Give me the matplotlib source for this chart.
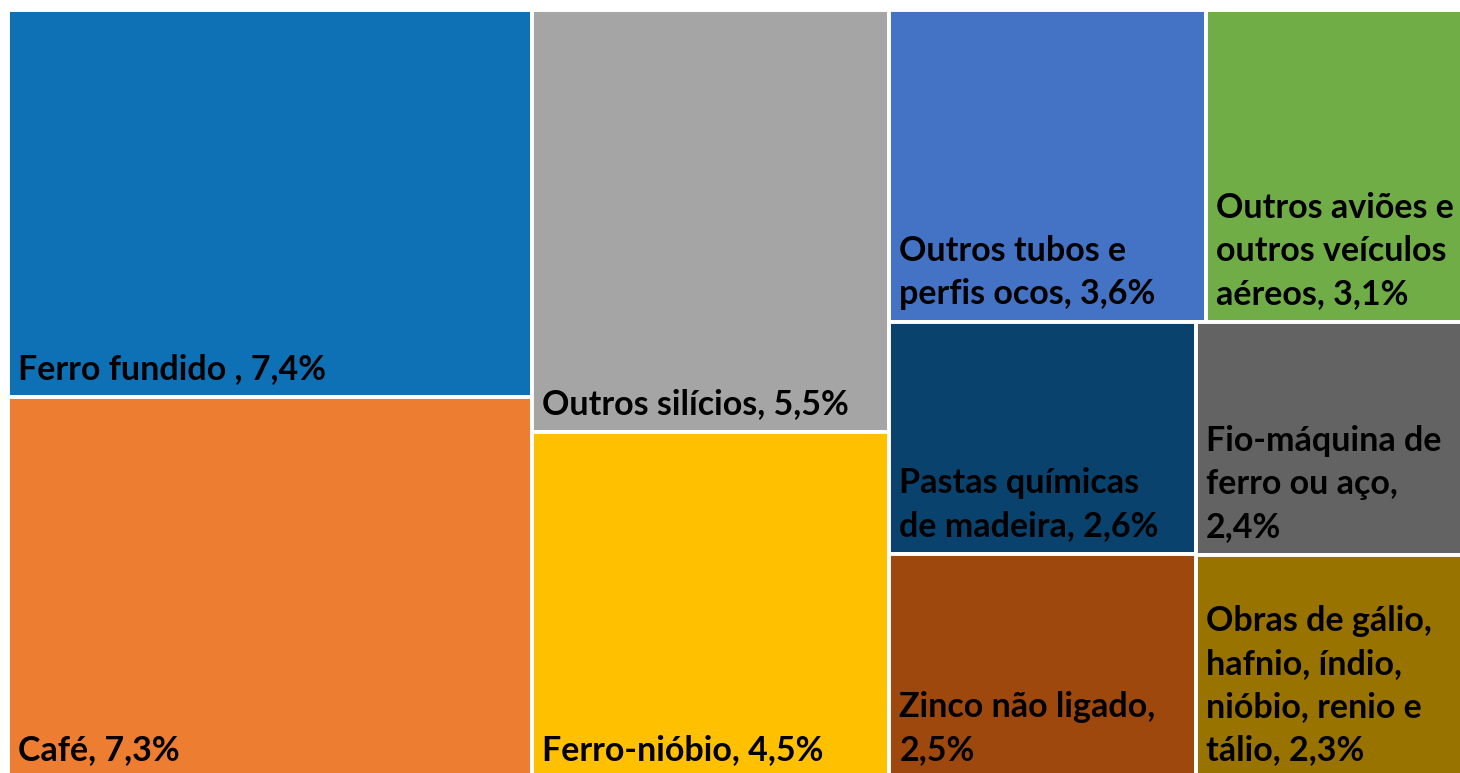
import matplotlib.pyplot as plt
from matplotlib.patches import Rectangle

labels = [
    "Ferro fundido , 7,4%",
    "Café, 7,3%",
    "Outros silícios, 5,5%",
    "Ferro-nióbio, 4,5%",
    "Outros tubos e\nperfis ocos, 3,6%",
    "Outros aviões e\noutros veículos\naéreos, 3,1%",
    "Pastas químicas\nde madeira, 2,6%",
    "Zinco não ligado,\n2,5%",
    "Fio-máquina de\nferro ou aço,\n2,4%",
    "Obras de gálio,\nhafnio, índio,\nnióbio, renio e\ntálio, 2,3%",
]
values = [7.4, 7.3, 5.5, 4.5, 3.6, 3.1, 2.6, 2.5, 2.4, 2.3]
colors = ["#0E71B6", "#ED7D31", "#A5A5A5", "#FFC000", "#4472C4",
          "#70AD47", "#08426D", "#9E480E", "#636363", "#997300"]


def worst(row, side):
    s = sum(row)
    return max(max(side * side * r / (s * s), s * s / (side * side * r)) for r in row)


def squarify(vals, x, y, w, h):
    # vals already scaled to area w*h; y measured from top
    rects = []
    vals = list(vals)
    while vals:
        side = min(w, h)
        row = [vals.pop(0)]
        while vals and worst(row + [vals[0]], side) <= worst(row, side):
            row.append(vals.pop(0))
        s = sum(row)
        if w >= h:
            cw = s / h
            cy = y
            for r in row:
                rh = r / cw
                rects.append((x, cy, cw, rh))
                cy += rh
            x += cw
            w -= cw
        else:
            rh = s / w
            cx = x
            for r in row:
                rw = r / rh
                rects.append((cx, y, rw, rh))
                cx += rw
            y += rh
            h -= rh
    return rects


W, H = 1470.0, 768.0
total = sum(values)
rects = squarify([v / total * W * H for v in values], 0, 0, W, H)

fig = plt.figure(figsize=(14.6, 7.73), dpi=100)
ax = fig.add_axes([8 / 1460, -5 / 773, W / 1460, H / 773])
ax.set_xlim(0, W)
ax.set_ylim(H, 0)
ax.axis("off")

for (rx, ry, rw, rh), lab, col in zip(rects, labels, colors):
    ax.add_patch(Rectangle((rx, ry), rw, rh, facecolor=col,
                           edgecolor="white", linewidth=2.8))
    ax.text(rx + 10, ry + rh - 12, lab, ha="left", va="bottom",
            fontsize=24.5, fontweight="bold", family="Lato",
            color="black", linespacing=1.42)

fig.savefig("out.png", dpi=100)
